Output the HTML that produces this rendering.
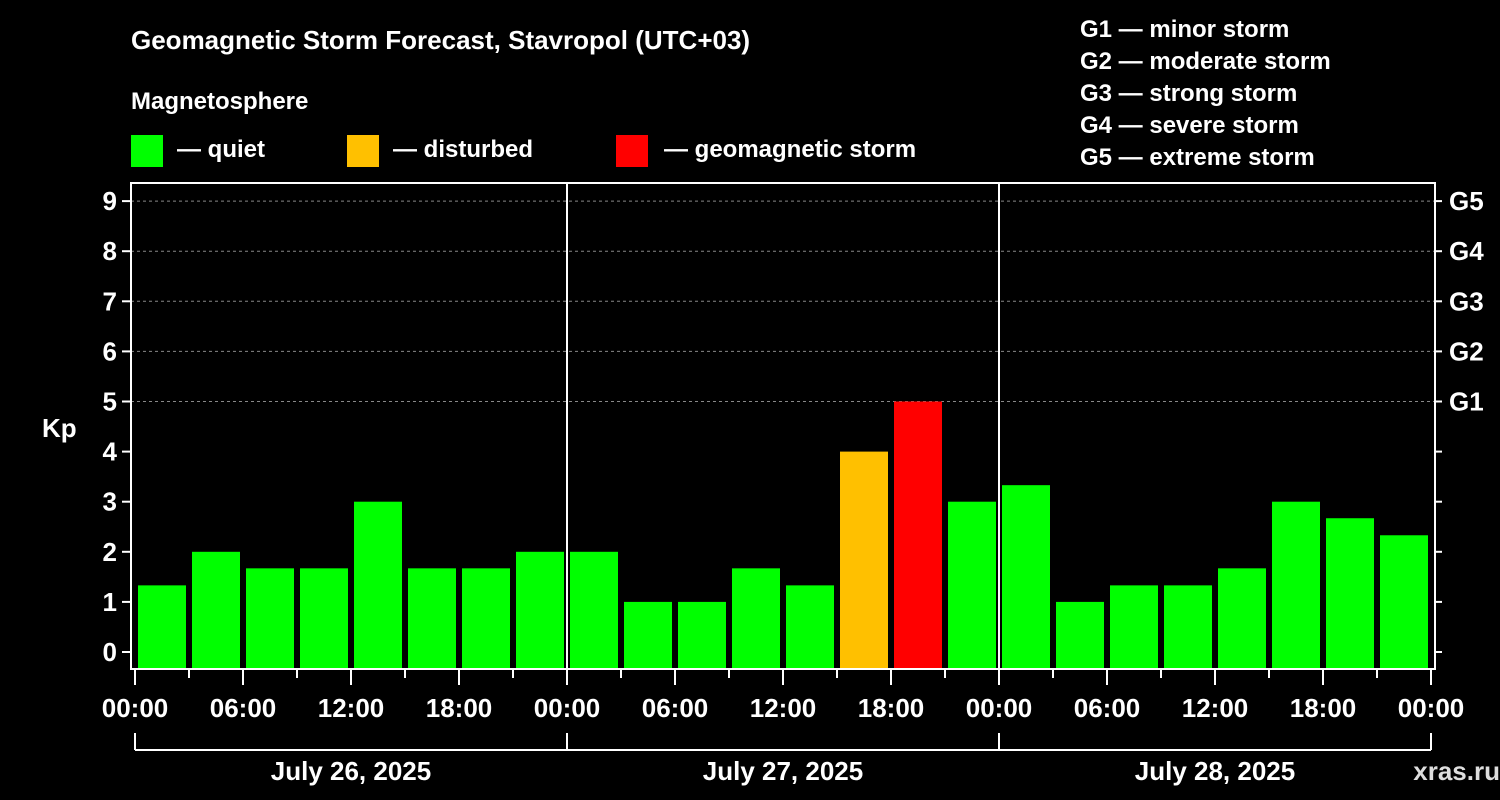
<!DOCTYPE html>
<html><head><meta charset="utf-8"><style>
body{margin:0;background:#000;width:1500px;height:800px;overflow:hidden}
svg{display:block}
text{font-family:"Liberation Sans",sans-serif;font-weight:bold;fill:#fff}
</style></head><body>
<svg id="c" width="1500" height="800">
<text x="131" y="49" font-size="26">Geomagnetic Storm Forecast, Stavropol (UTC+03)</text>
<text x="131" y="109" font-size="24">Magnetosphere</text>
<rect x="131" y="135" width="32" height="32" fill="#00ff00"/>
<text x="177" y="157" font-size="24">— quiet</text>
<rect x="347" y="135" width="32" height="32" fill="#ffc000"/>
<text x="393" y="157" font-size="24">— disturbed</text>
<rect x="616" y="135" width="32" height="32" fill="#ff0000"/>
<text x="664" y="157" font-size="24">— geomagnetic storm</text>
<g font-size="24">
<text x="1080" y="37">G1 — minor storm</text>
<text x="1080" y="69">G2 — moderate storm</text>
<text x="1080" y="101">G3 — strong storm</text>
<text x="1080" y="133">G4 — severe storm</text>
<text x="1080" y="165">G5 — extreme storm</text>
</g>
<text x="42" y="437" font-size="26">Kp</text>
<text x="1500" y="780" font-size="26" text-anchor="end" fill="#fff" style="fill:#ddd">xras.ru</text>
<g id="grid"></g><g id="bars"></g><g id="axes"></g>
</svg>
<script>
const dayLabels=["July 26, 2025","July 27, 2025","July 28, 2025"];
const hourLabels=["00:00","06:00","12:00","18:00"];
const kpValues=[1.33,2,1.67,1.67,3,1.67,1.67,2, 2,1,1,1.67,1.33,4,5,3, 3.33,1,1.33,1.33,1.67,3,2.67,2.33];
const gLabels=["G1","G2","G3","G4","G5"];
const NS="http://www.w3.org/2000/svg";
const X0=135,SLOT=54,Y0=652,UNIT=50.1,BOT=669,TOP=183,RIGHT=1435,LEFT=131;
const xs=i=>X0+i*SLOT, ys=k=>Y0-k*UNIT;
function mk(p,tag,a){const e=document.createElementNS(NS,tag);for(const k in a)e.setAttribute(k,a[k]);p.appendChild(e);return e;}
const grid=document.getElementById('grid'),bars=document.getElementById('bars'),axes=document.getElementById('axes');
for(let k=5;k<=9;k++){const l=mk(grid,'line',{x1:LEFT,x2:RIGHT,y1:ys(k),y2:ys(k),stroke:'#888','stroke-dasharray':'3,3','stroke-width':1});

}
kpValues.forEach((v,i)=>{const c=v>=5?'#ff0000':v>=4?'#ffc000':'#00ff00';
const r=mk(bars,'rect',{x:xs(i)+3,y:ys(v),width:48,height:BOT-ys(v),fill:c});

});
const fr=mk(axes,'rect',{x:LEFT,y:TOP,width:RIGHT-LEFT,height:BOT-TOP,fill:'none',stroke:'#fff','stroke-width':2});


for(let d=1;d<3;d++){const l=mk(axes,'line',{x1:xs(d*8),x2:xs(d*8),y1:TOP,y2:BOT,stroke:'#fff','stroke-width':2});

}
for(let k=0;k<=9;k++){mk(axes,'line',{x1:LEFT-9,x2:LEFT,y1:ys(k),y2:ys(k),stroke:'#fff','stroke-width':2});
mk(axes,'line',{x1:RIGHT,x2:RIGHT+7,y1:ys(k),y2:ys(k),stroke:'#fff','stroke-width':2});
const t=mk(axes,'text',{x:LEFT-14,y:ys(k)+9,'font-size':26,'text-anchor':'end'});t.textContent=k;

}
gLabels.forEach((g,i)=>{const t=mk(axes,'text',{x:1449,y:ys(5+i)+9,'font-size':26});t.textContent=g;

});
for(let i=0;i<=24;i++){const major=i%2==0;mk(axes,'line',{x1:xs(i),x2:xs(i),y1:BOT,y2:major?685:678,stroke:'#fff','stroke-width':2});
if(major){const t=mk(axes,'text',{x:xs(i),y:717,'font-size':26,'text-anchor':'middle'});t.textContent=hourLabels[(i/2)%4];

}}
mk(axes,'line',{x1:xs(0),x2:xs(24),y1:750,y2:750,stroke:'#fff','stroke-width':2});
for(let d=0;d<=3;d++)mk(axes,'line',{x1:xs(d*8),x2:xs(d*8),y1:733,y2:750,stroke:'#fff','stroke-width':2});
dayLabels.forEach((s,d)=>{const t=mk(axes,'text',{x:xs(d*8+4),y:780,'font-size':26,'text-anchor':'middle'});t.textContent=s;

});
</script>
</body></html>
